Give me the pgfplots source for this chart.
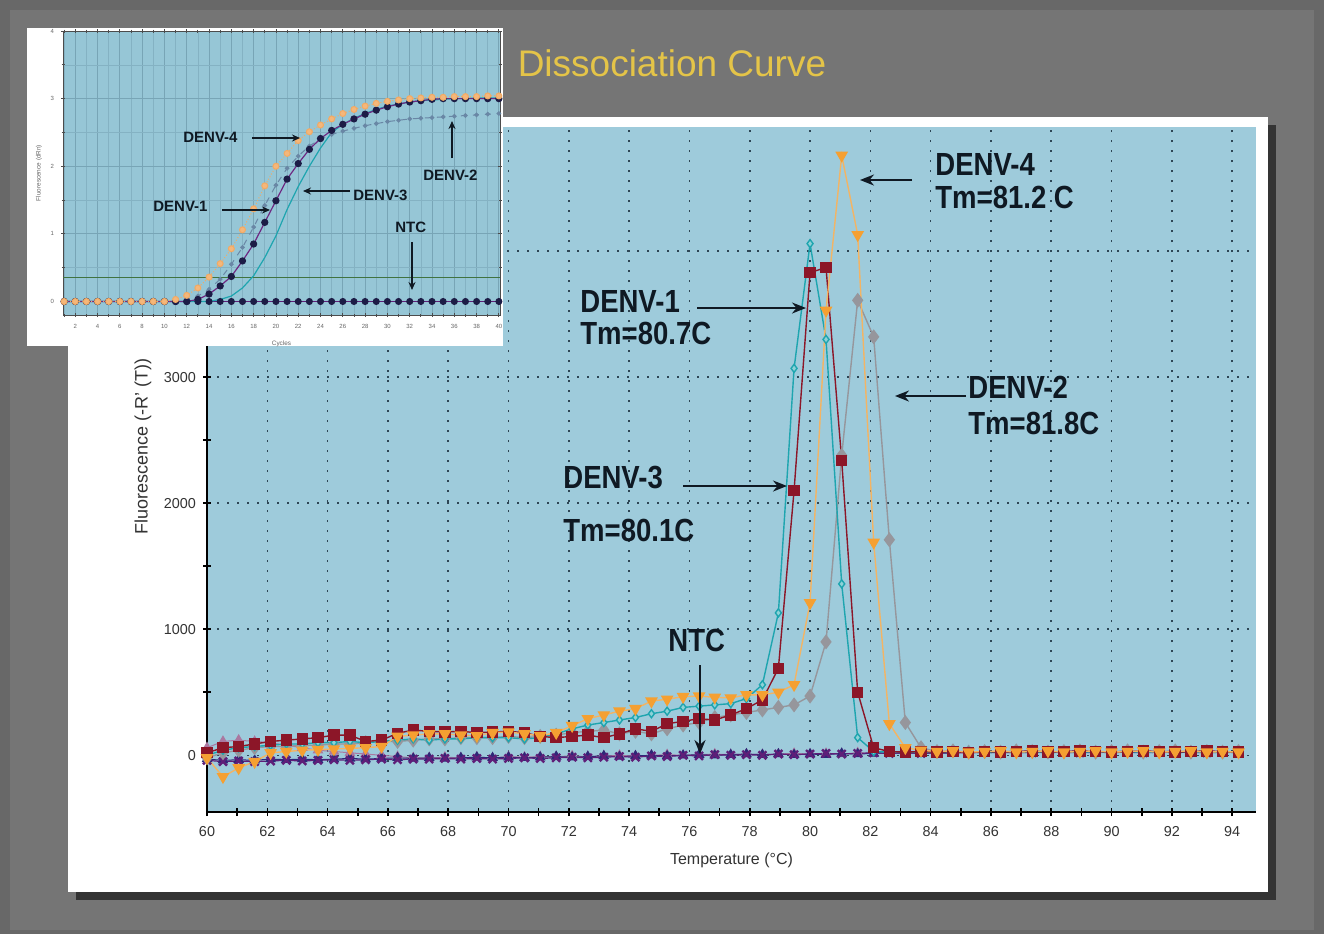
\documentclass[border=0pt]{standalone}
\usepackage{pgfplots}
\pgfplotsset{compat=1.18}
\usepackage{pgfplotstable}
\usepackage{fontspec}
\setmainfont{Liberation Sans}
\newfontfamily\annfont{Liberation Sans}[FakeStretch=0.86]
\usetikzlibrary{arrows.meta}

\definecolor{outergray}{RGB}{104,104,104}
\definecolor{innergray}{RGB}{117,117,117}
\definecolor{shadowc}{RGB}{52,52,52}
\definecolor{plotblue}{RGB}{158,203,219}
\definecolor{insetblue}{RGB}{150,198,214}
\definecolor{gridc}{RGB}{45,70,85}
\definecolor{insetgrid}{RGB}{120,165,182}
\definecolor{d4c}{RGB}{245,160,50}
\definecolor{d4line}{RGB}{243,180,100}
\definecolor{d1c}{RGB}{140,22,40}
\definecolor{d3c}{RGB}{30,165,175}
\definecolor{d2c}{RGB}{150,150,156}
\definecolor{ntcc}{RGB}{95,30,120}
\definecolor{navyc}{RGB}{45,40,120}
\definecolor{lavc}{RGB}{170,120,160}
\definecolor{titlegold}{RGB}{228,196,72}
\definecolor{inkc}{RGB}{15,25,35}
\definecolor{i4c}{RGB}{242,170,100}
\definecolor{i1c}{RGB}{28,28,70}
\definecolor{i1line}{RGB}{110,40,130}
\definecolor{i2c}{RGB}{105,135,165}

% melt curve: temperature, DENV-4, DENV-1, DENV-3, DENV-2, NTC, negatives
\pgfplotstableread{
T     d4    d1    d3    d2    ntc  navy  lav
60.00 -20   20    0     -20   -40  -30   60
60.53 -170  60    40    20    -50  -40   110
61.05 -100  70    60    40    -45  -35   120
61.58 -50   90    70    60    -50  -40   110
62.11 20    110   80    70    -45  -30   100
62.63 30    120   90    70    -40  -35   80
63.16 40    130   90    80    -45  -30   60
63.68 45    140   100   80    -40  -35   40
64.21 50    160   100   90    -35  -30   30
64.74 55    160   110   90    -40  -25   20
65.26 60    110   100   100   -35  -30   10
65.79 70    120   110   110   -30  -25   0
66.32 150   175   120   110   -35  -20   -10
66.84 160   200   130   120   -30  -25   -20
67.37 170   190   120   130   -30  -20   -20
67.89 170   185   130   130   -25  -25   -15
68.42 160   190   130   140   -30  -20   -20
68.95 155   180   140   140   -25  -15   -15
69.47 180   185   140   140   -30  -20   -20
70.00 185   190   140   150   -25  -15   -10
70.53 170   180   130   140   -20  -20   -15
71.05 155   150   140   150   -25  -15   -10
71.58 180   140   170   160   -20  -10   -10
72.11 235   150   210   180   -15  -15   -5
72.63 290   160   240   190   -20  -10   -10
73.16 320   140   260   200   -15  -5    -5
73.68 350   170   280   170   -10  -10   0
74.21 370   210   300   190   -15  -5    -5
74.74 430   190   330   170   -5   0     0
75.26 445   250   350   210   -10  -5    5
75.79 465   270   380   240   0    0     0
76.32 470   290   390   260   -5   5     5
76.84 460   280   400   300   5    0     10
77.37 455   320   410   320   0    5     5
77.89 480   370   450   340   5    10    10
78.42 480   440   560   360   0    5     5
78.95 500   690   1130  380   10   10    10
79.47 560   2100  3070  400   5    5     15
80.00 1210  3830  4060  470   10   10    10
80.53 3530  3870  3300  900   15   5     15
81.05 4760  2340  1360  2380  10   15    10
81.58 4130  500   140   3610  15   10    20
82.11 1690  60    30    3320  20   15    15
82.63 250   30    25    1710  15   20    20
83.16 60    25    30    260   20   15    15
83.68 40    30    20    60    15   20    25
84.21 30    25    30    30    20   15    20
84.74 35    30    25    35    25   20    15
85.26 25    20    30    25    20   25    20
85.79 30    30    20    30    25   20    25
86.32 35    25    30    25    20   25    20
86.84 25    30    25    35    25   20    25
87.37 30    35    30    30    20   25    20
87.89 35    25    25    25    30   20    25
88.42 25    30    30    30    25   25    20
88.95 30    35    25    35    20   30    25
89.47 35    30    30    25    25   25    20
90.00 25    25    25    30    30   20    25
90.53 30    30    30    35    25   25    30
91.05 35    35    25    25    20   30    25
91.58 25    30    30    30    25   25    20
92.11 30    25    25    35    30   20    25
92.63 35    30    30    25    25   25    30
93.16 25    35    25    30    20   30    25
93.68 30    30    30    25    25   25    20
94.21 25    25    25    30    30   20    25
}\meltdata

% amplification plot (inset)
\pgfplotstableread{
c  d4    d1    d3    d2    ntc
1  0     0     0     0     0
2  0     0     0     0     0
3  0     0     0     0     0
4  0     0     0     0     0
5  0     0     0     0     0
6  0     0     0     0     0
7  0     0     0     0     0
8  0     0     0     0     0
9  0     0     0     0     0
10 0     0     0     0     0
11 0.03  0     0     0     0
12 0.09  0     0     0.03  0
13 0.20  0.03  0     0.08  0
14 0.36  0.11  0     0.18  0
15 0.56  0.23  0.03  0.33  0
16 0.78  0.37  0.08  0.55  0
17 1.06  0.60  0.20  0.80  0
18 1.37  0.85  0.38  1.10  0
19 1.71  1.17  0.65  1.42  0
20 2.00  1.49  0.97  1.72  0
21 2.19  1.81  1.36  1.97  0
22 2.38  2.04  1.70  2.15  0
23 2.51  2.25  2.00  2.30  0
24 2.61  2.41  2.27  2.40  0
25 2.70  2.53  2.50  2.47  0
26 2.78  2.62  2.62  2.52  0
27 2.84  2.70  2.71  2.56  0
28 2.89  2.77  2.78  2.60  0
29 2.93  2.83  2.84  2.63  0
30 2.96  2.88  2.89  2.66  0
31 2.98  2.92  2.92  2.68  0
32 3.00  2.95  2.95  2.70  0
33 3.01  2.97  2.97  2.71  0
34 3.02  2.99  2.98  2.72  0
35 3.02  3.00  2.99  2.73  0
36 3.03  3.00  3.00  2.74  0
37 3.03  3.00  3.00  2.75  0
38 3.03  3.00  3.01  2.76  0
39 3.04  3.00  3.01  2.77  0
40 3.04  3.00  3.01  2.78  0
}\ampdata

\begin{document}
\begin{tikzpicture}
% frame, panel and shadow (pixel coordinates, y downwards)
\begin{scope}[x=0.5pt,y=-0.5pt]
\fill[outergray] (0,0) rectangle (1324,934);
\fill[innergray] (10,10) rectangle (1314,930);
\fill[shadowc] (76,125) rectangle (1276,900);
\fill[white] (68,117) rectangle (1268,892);
\end{scope}

\begin{axis}[
    at={(103.5pt,-406pt)}, anchor=south west,
    scale only axis, width=524.5pt, height=342.5pt,
    xmin=60, xmax=94.79, ymin=-450, ymax=4985,
    axis x line*=bottom, axis y line*=left,
    axis line style={black, line width=0.8pt},
    axis background/.style={fill=plotblue},
    xtick={60,62,...,94}, minor xtick={61,63,...,93},
    ytick={0,1000,2000,3000,4000}, minor ytick={500,1500,2500,3500,4500},
    tick align=center, major tick length=4pt, minor tick length=4pt,
    tick style={black, line width=0.8pt},
    xmajorgrids, ymajorgrids,
    grid style={gridc, line width=0.8pt, dash pattern=on 1.2pt off 3.8pt},
    ticklabel style={font=\fontsize{7.2}{8}\selectfont, text=black!80},
    xticklabel style={text height=5.5pt, text depth=0pt, yshift=-1pt},
    /pgf/number format/assume math mode=true,
    /pgf/number format/1000 sep={},
    xlabel={Temperature (°C)},
    ylabel={Fluorescence (-R' (T))},
    xlabel style={font=\fontsize{8}{9}\selectfont, text=black!80, at={(axis description cs:0.5,-0.07)}, anchor=center},
    ylabel style={font=\fontsize{9}{10}\selectfont, text=black!80, at={(axis description cs:-0.061,0.533)}, anchor=center},
]
\addplot[lavc, line width=0.5pt, mark=triangle*, mark size=2.6pt] table[x=T,y=lav]{\meltdata};
\addplot[navyc, line width=0.5pt, mark=triangle*, mark size=2.6pt] table[x=T,y=navy]{\meltdata};
\addplot[ntcc, line width=0.6pt, mark=x, mark size=2.8pt, mark options={line width=1.2pt}] table[x=T,y=ntc]{\meltdata};
\addplot[d2c, line width=0.7pt, mark=diamond*, mark size=3.2pt] table[x=T,y=d2]{\meltdata};
\addplot[d3c, line width=0.7pt, mark=diamond*, mark size=2pt, mark options={fill=d3c!50}] table[x=T,y=d3]{\meltdata};
\addplot[d1c, line width=0.7pt, mark=square*, mark size=2.5pt] table[x=T,y=d1]{\meltdata};
\addplot[d4line, line width=0.7pt, mark=triangle*, mark size=3pt, mark options={rotate=180, fill=d4c, draw=d4c}] table[x=T,y=d4]{\meltdata};
\end{axis}

% annotations of the melt curve
\begin{scope}[x=0.5pt,y=-0.5pt, every node/.style={inner sep=0pt, anchor=west, text=inkc, font=\annfont\bfseries\fontsize{16}{18}\selectfont}]
\node at (935,164) {DENV-4};
\node at (935,197) {Tm=81.2 C};
\node at (580,301) {DENV-1};
\node at (580,333) {Tm=80.7C};
\node at (968,387) {DENV-2};
\node at (968,423) {Tm=81.8C};
\node at (563,477) {DENV-3};
\node at (563,530) {Tm=80.1C};
\node at (668,640) {NTC};
\begin{scope}[inkc, line width=1pt, -{Stealth[length=7pt,width=5.5pt]}]
\draw (912,180) -- (860,180);
\draw (697,308) -- (806,308);
\draw (966,396) -- (895,396);
\draw (683,486) -- (787,486);
\draw (700,665) -- (700,754);
\end{scope}
\node[anchor=center, font=\fontsize{18.5}{20}\selectfont, text=titlegold] at (672,63) {Dissociation Curve};
\fill[white] (27,28) rectangle (503,346);
\end{scope}

% inset: amplification plot
\begin{axis}[
    at={(31.5pt,-157.5pt)}, anchor=south west,
    scale only axis, width=218.5pt, height=142pt,
    xmin=0.9, xmax=40.1, ymin=-0.2, ymax=4,
    axis background/.style={fill=insetblue},
    axis line style={black!70, line width=0.5pt},
    xtick={2,4,...,40}, minor xtick={1,3,...,39},
    ytick={0,1,2,3,4}, minor ytick={0.5,1.5,2.5,3.5},
    tick align=center, major tick length=2pt, minor tick length=1.5pt,
    tick style={black!70, line width=0.4pt},
    xmajorgrids, ymajorgrids, xminorgrids, yminorgrids,
    grid style={insetgrid, line width=0.4pt},
    minor grid style={insetgrid!60!insetblue, line width=0.3pt},
    ticklabel style={font=\fontsize{3}{3.5}\selectfont, text=black!60},
    /pgf/number format/assume math mode=true,
    xlabel={Cycles}, ylabel={Fluorescence (dRn)},
    label style={font=\fontsize{3.2}{3.6}\selectfont, text=black!60},
    xlabel style={at={(axis description cs:0.5,-0.1)}, anchor=center},
    ylabel style={at={(axis description cs:-0.055,0.5)}, anchor=center},
]
\addplot[black!60!green!50!gray, line width=0.6pt] coordinates {(0.9,0.36) (40.1,0.36)};
\addplot[ntcc, line width=0.5pt, mark=*, mark size=1.5pt, mark options={fill=i1c, draw=i1c}] table[x=c,y=ntc]{\ampdata};
\addplot[d3c, line width=0.6pt] table[x=c,y=d3]{\ampdata};
\addplot[i2c, line width=0.5pt, dashed, mark=*, mark size=0.9pt, mark options={solid}] table[x=c,y=d2]{\ampdata};
\addplot[i1line, line width=0.6pt, mark=*, mark size=1.5pt, mark options={fill=i1c, draw=i1c}] table[x=c,y=d1]{\ampdata};
\addplot[i4c, line width=0.5pt, densely dotted, mark=*, mark size=1.5pt, mark options={solid, fill=i4c!85, draw=i4c}] table[x=c,y=d4]{\ampdata};
\end{axis}

\begin{scope}[x=0.5pt,y=-0.5pt, every node/.style={inner sep=0pt, anchor=west, text=inkc, font=\bfseries\fontsize{7.5}{9}\selectfont}]
\node at (183,137) {DENV-4};
\node at (153,206) {DENV-1};
\node at (353,195) {DENV-3};
\node at (423,175) {DENV-2};
\node at (395,227) {NTC};
\begin{scope}[inkc, line width=0.7pt, -{Stealth[length=4pt,width=3.5pt]}]
\draw (252,138) -- (300,138);
\draw (222,210) -- (270,210);
\draw (350,191) -- (303,191);
\draw (452,158) -- (452,121);
\draw (412,242) -- (412,290);
\end{scope}
\end{scope}
\pgfresetboundingbox
\useasboundingbox (0,0) rectangle (662pt,-467pt);
\end{tikzpicture}
\end{document}
